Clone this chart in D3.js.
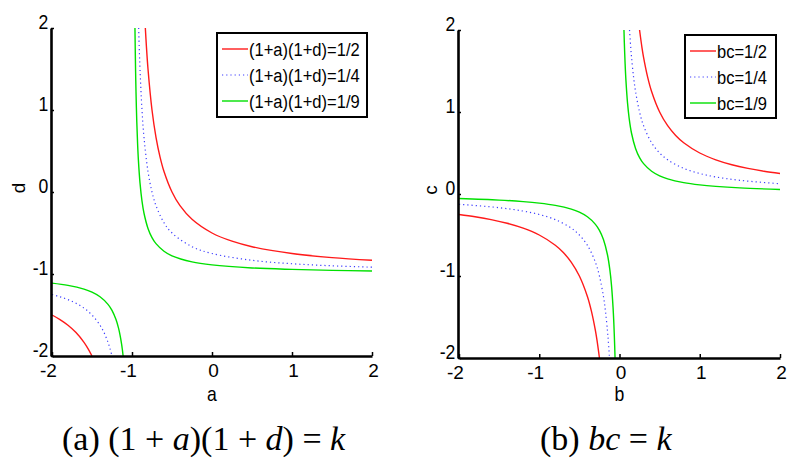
<!DOCTYPE html>
<html>
<head>
<meta charset="utf-8">
<script src="https://cdn.jsdelivr.net/npm/d3@7"></script>
<style>
html,body{margin:0;padding:0;background:#fff;}
svg{display:block;}
text{font-family:"Liberation Sans",Arial,sans-serif;}
</style>
</head>
<body>
<div id="chart"></div>
<script>
// ---------- data ----------
const axisTicks = [-2, -1, 0, 1, 2];
const tickLabels = ["-2", "-1", "0", "1", "2"];
const seriesColors = ["#ff1a1a", "#3d3dff", "#00e000"];
const leftLegend = ["(1+a)(1+d)=1/2", "(1+a)(1+d)=1/4", "(1+a)(1+d)=1/9"];
const rightLegend = ["bc=1/2", "bc=1/4", "bc=1/9"];

// left panel: (1+a)(1+d)=k, points [a, d]
const leftHalfUpper = [[-0.8333,2],[-0.82,1.778],[-0.8,1.5],[-0.75,1],[-0.7,0.667],[-0.65,0.429],[-0.6,0.25],[-0.5,0],[-0.4,-0.167],[-0.25,-0.333],[0,-0.5],[0.25,-0.6],[0.5,-0.667],[1,-0.75],[1.5,-0.8],[2,-0.833]];
const leftHalfLower = [[-2,-1.5],[-1.9,-1.556],[-1.8,-1.625],[-1.7,-1.714],[-1.6,-1.833],[-1.55,-1.909],[-1.5,-2]];
const leftQuarterUpper = [[-0.9167,2],[-0.91,1.778],[-0.9,1.5],[-0.875,1],[-0.85,0.667],[-0.8,0.25],[-0.75,0],[-0.7,-0.167],[-0.6,-0.375],[-0.5,-0.5],[-0.25,-0.667],[0,-0.75],[0.5,-0.833],[1,-0.875],[1.5,-0.9],[2,-0.9167]];
const leftQuarterLower = [[-2,-1.25],[-1.9,-1.278],[-1.8,-1.3125],[-1.7,-1.357],[-1.6,-1.417],[-1.5,-1.5],[-1.4,-1.625],[-1.35,-1.714],[-1.3,-1.833],[-1.275,-1.909],[-1.25,-2]];
const leftNinthUpper = [[-0.963,2],[-0.96,1.778],[-0.955,1.469],[-0.95,1.222],[-0.94,0.852],[-0.93,0.587],[-0.92,0.389],[-0.9,0.111],[-0.875,-0.111],[-0.85,-0.259],[-0.8,-0.444],[-0.75,-0.556],[-0.7,-0.63],[-0.6,-0.722],[-0.5,-0.778],[-0.25,-0.852],[0,-0.889],[0.5,-0.926],[1,-0.944],[1.5,-0.956],[2,-0.963]];
const leftNinthLower = [[-2,-1.111],[-1.8,-1.139],[-1.6,-1.185],[-1.5,-1.222],[-1.4,-1.278],[-1.3,-1.37],[-1.25,-1.444],[-1.2,-1.556],[-1.17,-1.654],[-1.15,-1.741],[-1.13,-1.855],[-1.12,-1.926],[-1.111,-2]];

// right panel: bc=k, points [b, c]
const rightHalfPos = [[0.25,2],[0.28,1.786],[0.3,1.667],[0.35,1.429],[0.4,1.25],[0.5,1],[0.6,0.833],[0.7,0.714],[0.8,0.625],[1,0.5],[1.2,0.417],[1.4,0.357],[1.6,0.3125],[1.8,0.278],[2,0.25]];
const rightHalfNeg = [[-2,-0.25],[-1.8,-0.278],[-1.6,-0.3125],[-1.4,-0.357],[-1.2,-0.417],[-1,-0.5],[-0.8,-0.625],[-0.7,-0.714],[-0.6,-0.833],[-0.5,-1],[-0.4,-1.25],[-0.35,-1.429],[-0.3,-1.667],[-0.28,-1.786],[-0.25,-2]];
const rightQuarterPos = [[0.125,2],[0.14,1.786],[0.15,1.667],[0.175,1.429],[0.2,1.25],[0.25,1],[0.3,0.833],[0.4,0.625],[0.5,0.5],[0.6,0.417],[0.8,0.3125],[1,0.25],[1.2,0.208],[1.5,0.167],[2,0.125]];
const rightQuarterNeg = [[-2,-0.125],[-1.5,-0.167],[-1.2,-0.208],[-1,-0.25],[-0.8,-0.3125],[-0.6,-0.417],[-0.5,-0.5],[-0.4,-0.625],[-0.3,-0.833],[-0.25,-1],[-0.2,-1.25],[-0.175,-1.429],[-0.15,-1.667],[-0.14,-1.786],[-0.125,-2]];
const rightNinthPos = [[0.0556,2],[0.06,1.852],[0.07,1.587],[0.08,1.389],[0.1,1.111],[0.12,0.926],[0.15,0.741],[0.2,0.556],[0.25,0.444],[0.3,0.37],[0.4,0.278],[0.5,0.222],[0.6,0.185],[0.8,0.139],[1,0.111],[1.2,0.0926],[1.5,0.0741],[2,0.0556]];
const rightNinthNeg = [[-2,-0.0556],[-1.5,-0.0741],[-1.2,-0.0926],[-1,-0.111],[-0.8,-0.139],[-0.6,-0.185],[-0.5,-0.222],[-0.4,-0.278],[-0.3,-0.37],[-0.25,-0.444],[-0.2,-0.556],[-0.15,-0.741],[-0.12,-0.926],[-0.1,-1.111],[-0.08,-1.389],[-0.07,-1.587],[-0.06,-1.852],[-0.0556,-2]];

// ---------- drawing ----------
const W = 800, H = 469;
const svg = d3.select("#chart").append("svg").attr("width", W).attr("height", H);

// narrow-looking label helper: scales glyphs horizontally around the anchor point
function narrowText(sel, x, y, txt, size, anchor, sx) {
  return sel.append("text")
    .attr("transform", `translate(${x},${y}) scale(${sx},1)`)
    .attr("text-anchor", anchor).style("font-size", size + "px").text(txt);
}

function panel(cfg) {
  const x = d3.scaleLinear().domain([-2, 2]).range(cfg.xr);
  const y = d3.scaleLinear().domain([-2, 2]).range(cfg.yr);
  const g = svg.append("g");

  const line = d3.line().x(d => x(d[0])).y(d => y(d[1])).curve(d3.curveCatmullRom.alpha(0.5));
  cfg.series.forEach((branches, i) => {
    branches.forEach(pts => {
      g.append("path").attr("d", line(pts)).attr("fill", "none")
        .attr("stroke", seriesColors[i])
        .attr("stroke-width", i === 1 ? 1.2 : 1.4)
        .attr("stroke-dasharray", i === 1 ? "1.2,3" : null);
    });
  });

  // y axis
  const ya = g.append("g").attr("transform", `translate(${cfg.xr[0] - 1},0)`)
    .call(d3.axisLeft(y).tickValues(axisTicks).tickFormat((d, i) => tickLabels[i]).tickSizeInner(-3).tickSizeOuter(0));
  ya.select(".domain").attr("stroke", "#000").attr("stroke-width", 2.6);
  ya.selectAll(".tick line").attr("stroke", "#000").attr("stroke-width", 1.5);
  ya.selectAll(".tick text").attr("x", -3).attr("dy", "0em")
    .attr("transform", "scale(0.88,1)")
    .style("font-size", "20px").attr("fill", "#000").attr("font-family", null);

  // x axis
  const xa = g.append("g").attr("transform", `translate(0,${cfg.yr[0]})`)
    .call(d3.axisBottom(x).tickValues(axisTicks).tickFormat((d, i) => tickLabels[i]).tickSizeInner(-4).tickSizeOuter(0));
  xa.select(".domain").attr("stroke", "#000").attr("stroke-width", 2.6);
  xa.selectAll(".tick line").attr("stroke", "#000").attr("stroke-width", 1.5);
  xa.selectAll(".tick text").attr("y", 8).attr("dx", d => d < 0 ? -4 : 1)
    .style("font-size", "19px").attr("fill", "#000").attr("font-family", null);

  // axis labels
  narrowText(g, (cfg.xr[0] + cfg.xr[1]) / 2, 401, cfg.xlabel, 20, "middle", 0.88);
  g.append("text").attr("transform", `translate(${cfg.ylabelX},${y(0) - 4}) rotate(-90)`)
    .attr("text-anchor", "middle").attr("dy", "0.35em").style("font-size", "19px").text(cfg.ylabel);

  // legend
  const L = cfg.legend;
  const lg = g.append("g");
  lg.append("rect").attr("x", L.x).attr("y", L.y).attr("width", L.w).attr("height", L.h)
    .attr("fill", "#fff").attr("stroke", "#000").attr("stroke-width", 2);
  cfg.labels.forEach((t, i) => {
    const cy = L.y + 16 + i * 26;
    lg.append("line").attr("x1", L.x + 5).attr("x2", L.x + 31).attr("y1", cy).attr("y2", cy)
      .attr("stroke", seriesColors[i]).attr("stroke-width", i === 1 ? 1.2 : 1.4)
      .attr("stroke-dasharray", i === 1 ? "1.2,3" : null);
    narrowText(lg, L.x + 32, cy + 7, t, 19, "start", 0.87);
  });
}

panel({
  xr: [52, 372], yr: [356, 28],
  series: [[leftHalfUpper, leftHalfLower], [leftQuarterUpper, leftQuarterLower], [leftNinthUpper, leftNinthLower]],
  xlabel: "a", ylabel: "d", ylabelX: 18,
  legend: {x: 217, y: 33, w: 150, h: 84},
  labels: leftLegend
});
panel({
  xr: [459, 780], yr: [358, 30],
  series: [[rightHalfPos, rightHalfNeg], [rightQuarterPos, rightQuarterNeg], [rightNinthPos, rightNinthNeg]],
  xlabel: "b", ylabel: "c", ylabelX: 430,
  legend: {x: 685, y: 35, w: 91, h: 83},
  labels: rightLegend
});

// captions
function caption(x, parts) {
  const t = svg.append("text").attr("x", x).attr("y", 450)
    .style("font-family", "'Liberation Serif','DejaVu Serif',serif").style("font-size", "34px");
  parts.forEach(p => t.append("tspan").style("font-style", p[1] ? "italic" : "normal").text(p[0]));
}
caption(62, [["(a) (1 + ", 0], ["a", 1], [")(1 + ", 0], ["d", 1], [") = ", 0], ["k", 1]]);
caption(540, [["(b) ", 0], ["bc", 1], [" = ", 0], ["k", 1]]);
</script>
</body>
</html>
